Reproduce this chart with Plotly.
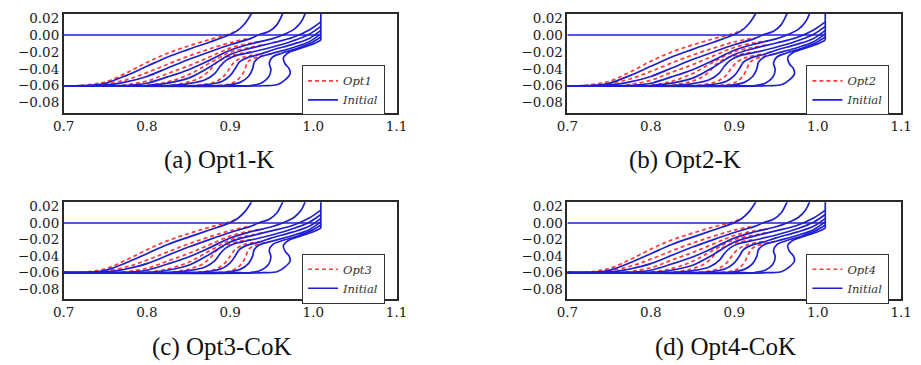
import plotly.graph_objects as go

BLUE = "#1f1fd2"
RED = "#ff3a3a"

PANELS = ["Opt1", "Opt2", "Opt3", "Opt4"]
CAPTIONS = ["(a) Opt1-K", "(b) Opt2-K", "(c) Opt3-CoK", "(d) Opt4-CoK"]

X_TICKS = [0.7, 0.8, 0.9, 1.0, 1.1]
Y_TICKS = [0.02, 0.00, -0.02, -0.04, -0.06, -0.08]

# ---- Initial geometry (blue) ----
WL_X = [0.700, 1.009]
WL_Y = [0.0, 0.0]
TR_X = [1.009, 1.009]
TR_Y = [-0.0063, 0.032]

B1_X = [0.700, 0.715, 0.735, 0.750, 0.775, 0.800, 0.825, 0.850, 0.875, 0.900, 0.909, 0.918, 0.926, 0.929]
B1_Y = [-0.0600, -0.0600, -0.0592, -0.0570, -0.0480, -0.0370, -0.0260, -0.0170, -0.0085, 0.0005, 0.0055, 0.0140, 0.0260, 0.0320]
B2_X = [0.700, 0.725, 0.745, 0.760, 0.775, 0.800, 0.825, 0.850, 0.875, 0.900, 0.925, 0.934, 0.947, 0.956, 0.963, 0.966]
B2_Y = [-0.0600, -0.0600, -0.0593, -0.0580, -0.0555, -0.0490, -0.0390, -0.0290, -0.0200, -0.0115, -0.0040, 0.0000, 0.0045, 0.0120, 0.0250, 0.0320]
B3_X = [0.700, 0.750, 0.770, 0.785, 0.800, 0.825, 0.850, 0.875, 0.900, 0.925, 0.950, 0.963, 0.977, 0.985, 0.990, 0.992]
B3_Y = [-0.0600, -0.0600, -0.0597, -0.0588, -0.0570, -0.0495, -0.0410, -0.0300, -0.0180, -0.0105, -0.0045, 0.0000, 0.0070, 0.0150, 0.0250, 0.0320]
B4_X = [0.700, 0.780, 0.800, 0.825, 0.850, 0.875, 0.900, 0.925, 0.950, 0.975, 0.995, 1.009]
B4_Y = [-0.0600, -0.0600, -0.0597, -0.0570, -0.0510, -0.0380, -0.0230, -0.0155, -0.0095, -0.0030, 0.0060, 0.0155]
B5_X = [0.700, 0.820, 0.850, 0.870, 0.882, 0.888, 0.895, 0.905, 0.925, 0.950, 0.975, 0.995, 1.009]
B5_Y = [-0.0600, -0.0600, -0.0575, -0.0530, -0.0450, -0.0370, -0.0300, -0.0250, -0.0205, -0.0145, -0.0070, 0.0010, 0.0103]
B6_X = [0.700, 0.850, 0.870, 0.890, 0.900, 0.906, 0.911, 0.920, 0.935, 0.950, 0.975, 0.995, 1.009]
B6_Y = [-0.0600, -0.0600, -0.0590, -0.0550, -0.0480, -0.0400, -0.0320, -0.0270, -0.0230, -0.0180, -0.0110, -0.0040, 0.0056]
B7_X = [0.700, 0.880, 0.895, 0.912, 0.922, 0.927, 0.929, 0.935, 0.950, 0.975, 0.995, 1.009]
B7_Y = [-0.0600, -0.0600, -0.0595, -0.0560, -0.0490, -0.0400, -0.0320, -0.0265, -0.0220, -0.0150, -0.0080, 0.0016]
B8_X = [0.700, 0.910, 0.925, 0.937, 0.946, 0.949, 0.947, 0.951, 0.962, 0.980, 0.997, 1.009]
B8_Y = [-0.0600, -0.0600, -0.0597, -0.0570, -0.0500, -0.0410, -0.0330, -0.0260, -0.0215, -0.0160, -0.0095, -0.0024]
B9_X = [0.700, 0.940, 0.957, 0.966, 0.972, 0.971, 0.966, 0.964, 0.970, 0.985, 1.000, 1.009]
B9_Y = [-0.0600, -0.0600, -0.0585, -0.0530, -0.0460, -0.0400, -0.0340, -0.0270, -0.0210, -0.0155, -0.0105, -0.0063]

INITIAL_X = [WL_X, TR_X, B1_X, B2_X, B3_X, B4_X, B5_X, B6_X, B7_X, B8_X, B9_X]
INITIAL_Y = [WL_Y, TR_Y, B1_Y, B2_Y, B3_Y, B4_Y, B5_Y, B6_Y, B7_Y, B8_Y, B9_Y]

# ---- Optimised geometry (red) ----
R1_X = [0.720, 0.750, 0.775, 0.800, 0.825, 0.850, 0.875, 0.900, 0.910]
R1_Y = {
    "Opt1": [-0.0598, -0.0555, -0.0450, -0.0325, -0.0215, -0.0130, -0.0055, 0.0015, 0.0065],
    "Opt2": [-0.0597, -0.0548, -0.0438, -0.0310, -0.0200, -0.0118, -0.0045, 0.0020, 0.0068],
    "Opt3": [-0.0598, -0.0553, -0.0447, -0.0322, -0.0213, -0.0128, -0.0052, 0.0016, 0.0066],
    "Opt4": [-0.0597, -0.0550, -0.0442, -0.0315, -0.0205, -0.0122, -0.0048, 0.0018, 0.0067],
}
R2_X = [0.740, 0.775, 0.800, 0.825, 0.850, 0.875, 0.900, 0.925]
R2_Y = {
    "Opt1": [-0.0595, -0.0530, -0.0445, -0.0345, -0.0250, -0.0165, -0.0090, -0.0035],
    "Opt2": [-0.0594, -0.0520, -0.0430, -0.0330, -0.0237, -0.0155, -0.0082, -0.0032],
    "Opt3": [-0.0595, -0.0532, -0.0448, -0.0348, -0.0252, -0.0168, -0.0092, -0.0036],
    "Opt4": [-0.0594, -0.0524, -0.0436, -0.0336, -0.0242, -0.0159, -0.0086, -0.0034],
}
R3_X = [0.770, 0.800, 0.825, 0.850, 0.875, 0.900, 0.925, 0.940]
R3_Y = {
    "Opt1": [-0.0595, -0.0545, -0.0455, -0.0365, -0.0260, -0.0155, -0.0095, -0.0072],
    "Opt2": [-0.0593, -0.0535, -0.0440, -0.0350, -0.0247, -0.0147, -0.0091, -0.0071],
    "Opt3": [-0.0595, -0.0547, -0.0458, -0.0368, -0.0263, -0.0157, -0.0096, -0.0072],
    "Opt4": [-0.0594, -0.0540, -0.0447, -0.0356, -0.0252, -0.0150, -0.0093, -0.0071],
}
R4_X = [0.800, 0.825, 0.850, 0.875, 0.900, 0.925, 0.940]
R4_Y = {
    "Opt1": [-0.0595, -0.0555, -0.0470, -0.0335, -0.0205, -0.0145, -0.0115],
    "Opt2": [-0.0594, -0.0548, -0.0455, -0.0320, -0.0197, -0.0141, -0.0114],
    "Opt3": [-0.0595, -0.0556, -0.0473, -0.0338, -0.0207, -0.0146, -0.0116],
    "Opt4": [-0.0594, -0.0551, -0.0462, -0.0326, -0.0200, -0.0143, -0.0115],
}
R5_Y = [-0.0595, -0.0555, -0.0500, -0.0420, -0.0340, -0.0275, -0.0235, -0.0200]
R5_X = {
    "Opt1": [0.830, 0.850, 0.865, 0.875, 0.882, 0.892, 0.905, 0.925],
    "Opt2": [0.825, 0.846, 0.861, 0.871, 0.879, 0.890, 0.904, 0.925],
    "Opt3": [0.830, 0.851, 0.866, 0.876, 0.883, 0.893, 0.905, 0.925],
    "Opt4": [0.827, 0.848, 0.863, 0.873, 0.880, 0.891, 0.904, 0.925],
}
R6_Y = [-0.0595, -0.0555, -0.0480, -0.0400, -0.0320, -0.0265, -0.0225]
R6_X = {
    "Opt1": [0.860, 0.882, 0.893, 0.899, 0.905, 0.915, 0.935],
    "Opt2": [0.856, 0.878, 0.890, 0.896, 0.903, 0.914, 0.935],
    "Opt3": [0.861, 0.883, 0.894, 0.900, 0.906, 0.916, 0.935],
    "Opt4": [0.858, 0.880, 0.891, 0.897, 0.904, 0.915, 0.935],
}
R7_Y = [-0.0598, -0.0565, -0.0490, -0.0400, -0.0320, -0.0270, -0.0220]
R7_X = {
    "Opt1": [0.885, 0.903, 0.913, 0.918, 0.921, 0.930, 0.950],
    "Opt2": [0.882, 0.900, 0.910, 0.915, 0.919, 0.929, 0.950],
    "Opt3": [0.886, 0.904, 0.914, 0.919, 0.922, 0.930, 0.950],
    "Opt4": [0.884, 0.902, 0.911, 0.916, 0.920, 0.929, 0.950],
}

W, H = 921, 365
# plot-area boxes in pixels: (left, right, top, bottom)
BOXES = [(54, 395, 10, 110), (570, 912, 10, 110), (54, 395, 200.5, 298.5), (570, 912, 200.5, 298.5)]
CAP_POS = [(213, 158), (690, 158), (216, 347), (732, 347)]

fig = go.Figure()
layout = dict(width=W, height=H, margin=dict(l=0, r=0, t=0, b=0),
              paper_bgcolor="white", plot_bgcolor="white", annotations=[])

for i, opt in enumerate(PANELS):
    n = "" if i == 0 else str(i + 1)
    xa, ya = "x" + n, "y" + n
    lg = "legend" + n
    reds = [
        (R1_X, R1_Y[opt]), (R2_X, R2_Y[opt]), (R3_X, R3_Y[opt]), (R4_X, R4_Y[opt]),
        (R5_X[opt], R5_Y), (R6_X[opt], R6_Y), (R7_X[opt], R7_Y),
    ]
    for k, (rx, ry) in enumerate(reds):
        fig.add_trace(go.Scatter(x=rx, y=ry, mode="lines", xaxis=xa, yaxis=ya,
                                 line=dict(color=RED, width=1.7, dash="4px,3px", shape="spline"),
                                 name="<i>%s</i>" % opt, legend=lg, legendgroup="opt" + n,
                                 showlegend=(k == 0), hoverinfo="skip"))
    for k, (bx, by) in enumerate(zip(INITIAL_X, INITIAL_Y)):
        fig.add_trace(go.Scatter(x=bx, y=by, mode="lines", xaxis=xa, yaxis=ya,
                                 line=dict(color=BLUE, width=1.7, shape="spline" if k > 1 else "linear"),
                                 name="<i>Initial</i>", legend=lg, legendgroup="ini" + n,
                                 showlegend=(k == 0), hoverinfo="skip"))
    l, r, t, b = BOXES[i]
    axstyle = dict(showline=True, mirror=True, linecolor="#2a2a2a", linewidth=1.5,
                   showgrid=False, zeroline=False, ticks="",
                   tickfont=dict(family="DejaVu Serif", size=13.5, color="#1a1a1a"))
    layout["xaxis" + n] = dict(domain=[l / W, r / W], range=[0.7, 1.1], anchor=ya,
                               tickvals=X_TICKS, tickformat=".1f", **axstyle)
    layout["yaxis" + n] = dict(domain=[1 - b / H, 1 - t / H], range=[-0.092, 0.025], anchor=xa,
                               tickvals=Y_TICKS, tickformat=".2f", **axstyle)
    lx = l + (r - l) * 0.716
    layout[lg] = dict(x=lx / W, y=1 - (t + 52) / H, xanchor="left", yanchor="top",
                      bgcolor="white", bordercolor="#333", borderwidth=1,
                      font=dict(family="DejaVu Serif", size=11.5, color="#333"),
                      tracegroupgap=0, itemwidth=30)
    cx, cy = CAP_POS[i]
    layout["annotations"].append(dict(text=CAPTIONS[i], x=cx / W, y=1 - cy / H, xref="paper", yref="paper",
                                      showarrow=False, xanchor="center", yanchor="middle",
                                      font=dict(family="Liberation Serif", size=25, color="#111")))

fig.update_layout(**layout)
fig.write_html("out.html")
